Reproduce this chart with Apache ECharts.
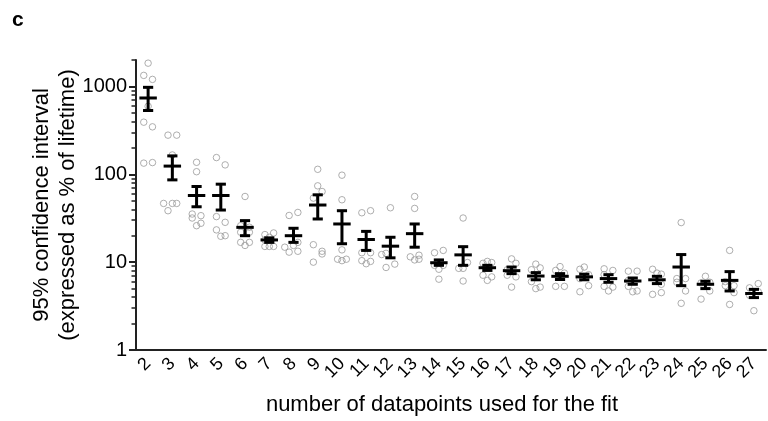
<!DOCTYPE html>
<html>
<head>
<meta charset="utf-8">
<script src="https://cdn.jsdelivr.net/npm/echarts@6/dist/echarts.min.js"></script>
<style>
  html, body { margin: 0; padding: 0; background: #fff; }
  #chart { width: 768px; height: 421px; }
</style>
</head>
<body>
<div id="chart"></div>
<script>
// number of datapoints used for the fit
const categories = ['2','3','4','5','6','7','8','9','10','11','12','13','14','15',
  '16','17','18','19','20','21','22','23','24','25','26','27'];

// mean and error bar ends (% of lifetime)
const means = [739, 124, 57.4, 57.4, 24.9, 17.9, 20, 44.7, 27.2, 18.1, 15.2, 21.1, 9.85,
  12.1, 8.64, 8.0, 6.95, 6.9, 6.8, 6.5, 6.1, 6.3, 8.8, 5.6, 6.2, 4.4];
const upper = [977, 162, 72.6, 77.2, 29.7, 18.9, 24.3, 58.4, 38.5, 22.4, 19.2, 27.2, 10.6,
  15, 9.2, 8.8, 7.6, 7.4, 7.3, 7.2, 6.6, 6.9, 12.2, 6.05, 7.8, 4.9];
const lower = [532, 86.4, 42.7, 39.2, 20, 16.8, 16.8, 31, 16.2, 13.6, 11.2, 14.8, 9.2,
  9.2, 8.05, 7.4, 6.3, 6.35, 6.3, 5.9, 5.6, 5.7, 5.4, 5.0, 4.7, 3.95];

// individual values per category: [column slot, value]
const points = [
  [[0,1841],[-1,1336],[1,1203],[0,595],[-1,392],[1,347],[-1,134],[1,136]],
  [[-1,279],[1,279],[0,166],[-2,46.6],[0,46.6],[1,46.6],[-1,38.5]],
  [[0,137],[0,107],[-1,35.3],[1,33.8],[-1,31.8],[0,26],[1,27.7]],
  [[-1,155],[1,128],[-1,33],[1,28.4],[-1,23.3],[0,19.7],[1,20]],
  [[0,55.9],[-1,26],[1,25],[-1,21.9],[1,21.9],[-1,16.8],[1,16.8],[0,15.5]],
  [[-1,20.6],[1,21.5],[0,19.2],[-1,15.1],[0,15.1],[1,15.1],[-1,17.9]],
  [[-1,34],[1,36.8],[-2,14.8],[-1,13],[1,13.3],[0,15.5],[1,16.8]],
  [[0,114],[0,73.9],[1,63.7],[-1,53.6],[-1,15.8],[1,13.3],[1,12.4],[-1,10]],
  [[0,97.7],[0,51.3],[0,13.8],[-1,10.8],[1,10.8],[0,10.4]],
  [[-1,36.5],[1,38.5],[-1,12.8],[1,12.8],[-1,10.4],[0,9.6],[1,10.2]],
  [[0,41.6],[-2,12.2],[-1,12.6],[1,9.5],[-1,8.7]],
  [[0,55.9],[0,40.9],[-1,11.5],[1,12],[1,10.8],[0,10.6]],
  [[-1,12.8],[1,13.6],[0,6.4],[-1,9.2],[1,9.2],[0,8.3]],
  [[0,31.8],[-1,8.5],[1,9.9],[0,6.1],[0,8.5]],
  [[-1,9.7],[1,9.9],[-1,7.1],[1,6.8],[0,6.2],[0,10.2]],
  [[0,10.9],[1,9.7],[-1,7.1],[1,6.8],[0,5.2],[-1,8.2]],
  [[0,9.5],[-1,8.2],[-1,6.0],[0,5.0],[1,5.2],[1,8.6]],
  [[-1,8.05],[0,8.9],[-1,5.3],[1,5.3],[1,7.5]],
  [[-1,8.3],[0,8.8],[1,5.4],[-1,4.6],[1,7.2],[-1,6.5]],
  [[-1,8.4],[1,8.05],[-1,5.3],[1,5.2],[0,4.7],[-1,7.2]],
  [[-1,7.9],[1,7.9],[-1,5.3],[1,4.7],[0,4.6],[-1,6.2]],
  [[-1,8.3],[1,7.3],[-1,4.3],[1,4.5],[1,5.6],[0,7.5]],
  [[0,28.2],[-1,6.5],[1,6.5],[1,4.7],[0,3.4],[-1,5.9]],
  [[-1,5.8],[0,6.9],[1,5.9],[1,4.7],[-1,3.8]],
  [[0,13.6],[-1,5.4],[1,5.4],[1,4.5],[0,3.3],[-1,6.0]],
  [[-1,5.1],[1,5.7],[0,2.8],[1,4.6],[-1,4.2]]
];

// y axis tick values
const majorTicks = [1, 10, 100, 1000];
const minorTicks = [2,3,4,5,6,7,8,9,20,30,40,50,60,70,80,90,200,300,400,500,600,700,800,900,2000];
const yMin = 1;
const yMax = 2000;

const slot = 0.18;
const scatterData = [];
points.forEach(function (list, i) {
  list.forEach(function (p) {
    scatterData.push([Number(categories[i]) + p[0] * slot, p[1]]);
  });
});
const barData = means.map(function (m, i) { return [i, lower[i], upper[i], m]; });

const font = 'Liberation Sans, Arial, sans-serif';
const axisColor = '#222';

// helper axes, only used to draw the tick marks
function tickAxis(values, len, width) {
  return {
    type: 'log',
    logBase: 10,
    min: yMin,
    max: yMax,
    position: 'left',
    axisLine: { show: false },
    axisTick: { show: true, length: len, customValues: values,
      lineStyle: { color: axisColor, width: width } },
    axisLabel: { show: false },
    splitLine: { show: false }
  };
}

const chart = echarts.init(document.getElementById('chart'));

const option = {
  animation: false,
  grid: { left: 136, right: 2, top: 60, bottom: 71, outerBoundsMode: 'none' },
  graphic: [{
    type: 'text', left: 12, top: 10,
    style: { text: 'c', font: 'bold 21px ' + font, fill: '#000' }
  }],
  xAxis: [{
    type: 'category',
    data: categories,
    boundaryGap: true,
    name: 'number of datapoints used for the fit',
    nameLocation: 'middle',
    nameGap: 44,
    nameTextStyle: { fontFamily: font, fontSize: 22, color: '#000', padding: [0, 18, 0, 0] },
    axisLine: { lineStyle: { color: axisColor, width: 2 } },
    axisTick: { alignWithLabel: true, length: 7, lineStyle: { color: axisColor, width: 2 } },
    axisLabel: { rotate: 45, interval: 0, fontFamily: font, fontSize: 18, color: '#000', margin: 11 }
  }, {
    type: 'value',
    min: 1.5,
    max: 27.5,
    show: false
  }],
  yAxis: [{
    type: 'log',
    logBase: 10,
    min: yMin,
    max: yMax,
    name: '95% confidence interval\n(expressed as % of lifetime)',
    nameLocation: 'middle',
    nameGap: 55,
    nameMoveOverlap: false,
    nameRotate: 90,
    nameTextStyle: { fontFamily: font, fontSize: 22, color: '#000', lineHeight: 26 },
    axisLine: { show: true, lineStyle: { color: axisColor, width: 2 } },
    axisTick: { show: false },
    axisLabel: { customValues: majorTicks, fontFamily: font, fontSize: 20, color: '#000', margin: 9,
      formatter: function (v) { return String(Math.round(v)); } },
    splitLine: { show: false }
  }, tickAxis(majorTicks, 7, 2), tickAxis(minorTicks, 4.5, 1.5)],
  series: [{
    type: 'scatter',
    xAxisIndex: 1,
    yAxisIndex: 0,
    data: scatterData,
    symbol: 'circle',
    symbolSize: 6.5,
    itemStyle: { color: 'rgba(255,255,255,0)', borderColor: '#9a9a9a', borderWidth: 1 },
    z: 2
  }, {
    type: 'custom',
    xAxisIndex: 0,
    yAxisIndex: 0,
    data: barData,
    z: 3,
    renderItem: function (params, api) {
      const x = api.value(0);
      const lo = api.coord([x, api.value(1)]);
      const hi = api.coord([x, api.value(2)]);
      const mid = api.coord([x, api.value(3)]);
      const bw = api.size([1, 0])[0];
      const cap = bw * 0.21;
      const half = bw * 0.36;
      const style = { stroke: '#000', lineWidth: 3 };
      return {
        type: 'group',
        children: [
          { type: 'line', shape: { x1: lo[0], y1: lo[1], x2: hi[0], y2: hi[1] }, style: style },
          { type: 'line', shape: { x1: hi[0] - cap, y1: hi[1], x2: hi[0] + cap, y2: hi[1] }, style: style },
          { type: 'line', shape: { x1: lo[0] - cap, y1: lo[1], x2: lo[0] + cap, y2: lo[1] }, style: style },
          { type: 'line', shape: { x1: mid[0] - half, y1: mid[1], x2: mid[0] + half, y2: mid[1] }, style: style }
        ]
      };
    }
  }]
};
chart.setOption(option);
</script>
</body>
</html>
